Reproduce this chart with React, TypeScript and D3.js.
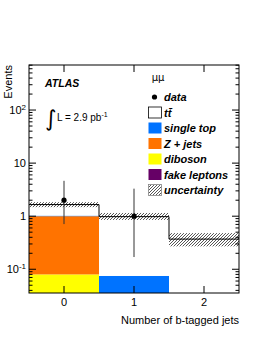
import { useEffect, useRef } from 'react';
import * as d3 from 'd3';

// bins: number of b-tagged jets
const bins = [0, 1, 2];
const diboson = [0.08, 0.0, 0.0];
const zjets = [0.92, 0.0, 0.0];
const singleTop = [0.025, 0.075, 0.0];
const fakeLeptons = [0.0, 0.0, 0.0];
const ttbar = [0.63, 0.905, 0.37];
const uncLow = [1.48, 0.85, 0.27];
const uncHigh = [1.84, 1.15, 0.48];
const dataVals = [2, 1];
const dataErrLow = [1.29, 0.83];
const dataErrHigh = [2.64, 2.3];
const yTicks = [0.1, 1, 10, 100];

const samples = [
  { name: 'diboson', vals: diboson, color: '#ffff00' },
  { name: 'Z + jets', vals: zjets, color: '#ff7300' },
  { name: 'single top', vals: singleTop, color: '#0073ff' },
  { name: 'fake leptons', vals: fakeLeptons, color: '#660066' },
  { name: 'tt', vals: ttbar, color: '#ffffff' },
];

export default function App() {
  const svgRef = useRef<SVGSVGElement>(null);

  useEffect(() => {
    if (!svgRef.current) return;
    const left = 29, right = 239, top = 65, bottom = 293;
    const font = 'Liberation Sans, Arial, sans-serif';

    const svg = d3.select(svgRef.current);
    svg.selectAll('*').remove();

    const x = d3.scaleLinear().domain([-0.5, 2.5]).range([left, right]);
    const y = d3.scaleLog().domain([0.0357, 706]).range([bottom, top]);

    const defs = svg.append('defs');
    const pat = defs.append('pattern')
      .attr('id', 'hatch')
      .attr('patternUnits', 'userSpaceOnUse')
      .attr('width', 3).attr('height', 3);
    pat.append('path')
      .attr('d', 'M-1,1 L1,-1 M0,3 L3,0 M2,4 L4,2')
      .attr('stroke', '#444').attr('stroke-width', 0.9);
    defs.append('clipPath').attr('id', 'frame')
      .append('rect').attr('x', left).attr('y', top)
      .attr('width', right - left).attr('height', bottom - top);

    const plot = svg.append('g').attr('clip-path', 'url(#frame)');

    // stacked histogram
    const cum = bins.map(() => 0);
    samples.forEach(s => {
      bins.forEach((b, i) => {
        const lo = cum[i];
        const hi = lo + s.vals[i];
        cum[i] = hi;
        if (s.vals[i] <= 0) return;
        const y0 = lo > 0 ? y(lo) : bottom + 5;
        plot.append('rect')
          .attr('x', x(b - 0.5))
          .attr('width', x(b + 0.5) - x(b - 0.5))
          .attr('y', y(hi))
          .attr('height', Math.max(0.6, y0 - y(hi)))
          .attr('fill', s.color);
      });
    });

    // uncertainty band
    bins.forEach((b, i) => {
      plot.append('rect')
        .attr('x', x(b - 0.5))
        .attr('width', x(b + 0.5) - x(b - 0.5))
        .attr('y', y(uncHigh[i]))
        .attr('height', y(uncLow[i]) - y(uncHigh[i]))
        .attr('fill', 'url(#hatch)');
    });

    // total outline
    const pts: [number, number][] = [];
    bins.forEach((b, i) => {
      pts.push([x(b - 0.5), y(cum[i])]);
      pts.push([x(b + 0.5), y(cum[i])]);
    });
    plot.append('path')
      .attr('d', d3.line()(pts))
      .attr('fill', 'none').attr('stroke', '#000').attr('stroke-width', 1);

    // data
    dataVals.forEach((v, i) => {
      const cx = x(bins[i]);
      plot.append('line')
        .attr('x1', cx).attr('x2', cx)
        .attr('y1', y(v + dataErrHigh[i])).attr('y2', y(v - dataErrLow[i]))
        .attr('stroke', '#333').attr('stroke-width', 1);
      plot.append('circle').attr('cx', cx).attr('cy', y(v)).attr('r', 2.6).attr('fill', '#000');
    });

    // frame
    svg.append('rect')
      .attr('x', left).attr('y', top)
      .attr('width', right - left).attr('height', bottom - top)
      .attr('fill', 'none').attr('stroke', '#000').attr('stroke-width', 1);

    // y ticks (log)
    const ax = svg.append('g').attr('stroke', '#000').attr('stroke-width', 1);
    for (let e = -2; e <= 2; e++) {
      for (let m = 1; m <= 9; m++) {
        const v = m * Math.pow(10, e);
        if (v < 0.0357 || v > 706) continue;
        const len = m === 1 ? 7 : 3.5;
        const yy = y(v);
        ax.append('line').attr('x1', left).attr('x2', left + len).attr('y1', yy).attr('y2', yy);
        ax.append('line').attr('x1', right).attr('x2', right - len).attr('y1', yy).attr('y2', yy);
      }
    }
    // x ticks
    bins.forEach(b => {
      ax.append('line').attr('x1', x(b)).attr('x2', x(b)).attr('y1', bottom).attr('y2', bottom - 7);
      ax.append('line').attr('x1', x(b)).attr('x2', x(b)).attr('y1', top).attr('y2', top + 7);
    });

    // y tick labels
    yTicks.forEach(t => {
      const txt = svg.append('text')
        .attr('x', 26).attr('y', y(t) + 4)
        .attr('text-anchor', 'end')
        .attr('font-family', font).attr('font-size', 11);
      const e = Math.round(Math.log10(t));
      if (e === 0) txt.text('1');
      else if (e === 1) txt.text('10');
      else {
        txt.append('tspan').text('10');
        txt.append('tspan').attr('dy', -4).attr('font-size', 8).text(String(e));
      }
    });

    // x tick labels
    bins.forEach(b => {
      svg.append('text')
        .attr('x', x(b)).attr('y', 306)
        .attr('text-anchor', 'middle')
        .attr('font-family', font).attr('font-size', 11)
        .text(String(b));
    });

    // axis titles
    svg.append('text')
      .attr('x', right).attr('y', 324)
      .attr('text-anchor', 'end')
      .attr('font-family', font).attr('font-size', 11)
      .text('Number of b-tagged jets');
    svg.append('text')
      .attr('transform', `translate(12,${top}) rotate(-90)`)
      .attr('text-anchor', 'end')
      .attr('font-family', font).attr('font-size', 11)
      .text('Events');

    // ATLAS label
    svg.append('text')
      .attr('x', 45).attr('y', 87)
      .attr('font-family', font).attr('font-size', 10.5)
      .attr('font-weight', 'bold').attr('font-style', 'italic')
      .text('ATLAS');
    svg.append('text')
      .attr('x', 45).attr('y', 126)
      .attr('font-family', 'DejaVu Sans, sans-serif').attr('font-size', 22)
      .text('∫');
    const lumi = svg.append('text')
      .attr('x', 57).attr('y', 121)
      .attr('font-family', font).attr('font-size', 10);
    lumi.append('tspan').text('L = 2.9 pb');
    lumi.append('tspan').attr('dy', -4).attr('font-size', 7).text('-1');

    // legend
    svg.append('text')
      .attr('x', 158).attr('y', 81)
      .attr('text-anchor', 'middle')
      .attr('font-family', 'DejaVu Sans, sans-serif').attr('font-size', 10)
      .text('μμ');

    const legendItems = [
      { label: 'data', kind: 'data', color: '#000' },
      { label: 'tt̄', kind: 'box', color: '#ffffff' },
      { label: 'single top', kind: 'box', color: '#0073ff' },
      { label: 'Z + jets', kind: 'box', color: '#ff7300' },
      { label: 'diboson', kind: 'box', color: '#ffff00' },
      { label: 'fake leptons', kind: 'box', color: '#660066' },
      { label: 'uncertainty', kind: 'hatch', color: '' },
    ];
    legendItems.forEach((it, i) => {
      const cy = 97 + i * 15.5;
      if (it.kind === 'data') {
        svg.append('circle').attr('cx', 154.5).attr('cy', cy).attr('r', 2.6).attr('fill', '#000');
      } else {
        svg.append('rect')
          .attr('x', 148.5).attr('y', cy - 5.5)
          .attr('width', 13).attr('height', 11)
          .attr('fill', it.kind === 'hatch' ? 'url(#hatch)' : it.color)
          .attr('stroke', it.kind === 'hatch' ? '#888' : it.color === '#ffffff' ? '#000' : 'none')
          .attr('stroke-width', 0.8);
      }
      svg.append('text')
        .attr('x', 164).attr('y', cy + 4)
        .attr('font-family', font).attr('font-size', 11)
        .attr('font-weight', 'bold').attr('font-style', 'italic')
        .text(it.label);
    });
  }, []);

  return (
    <svg ref={svgRef} width={262} height={339}
      style={{ position: 'absolute', left: 0, top: 0, background: '#fff' }} />
  );
}
